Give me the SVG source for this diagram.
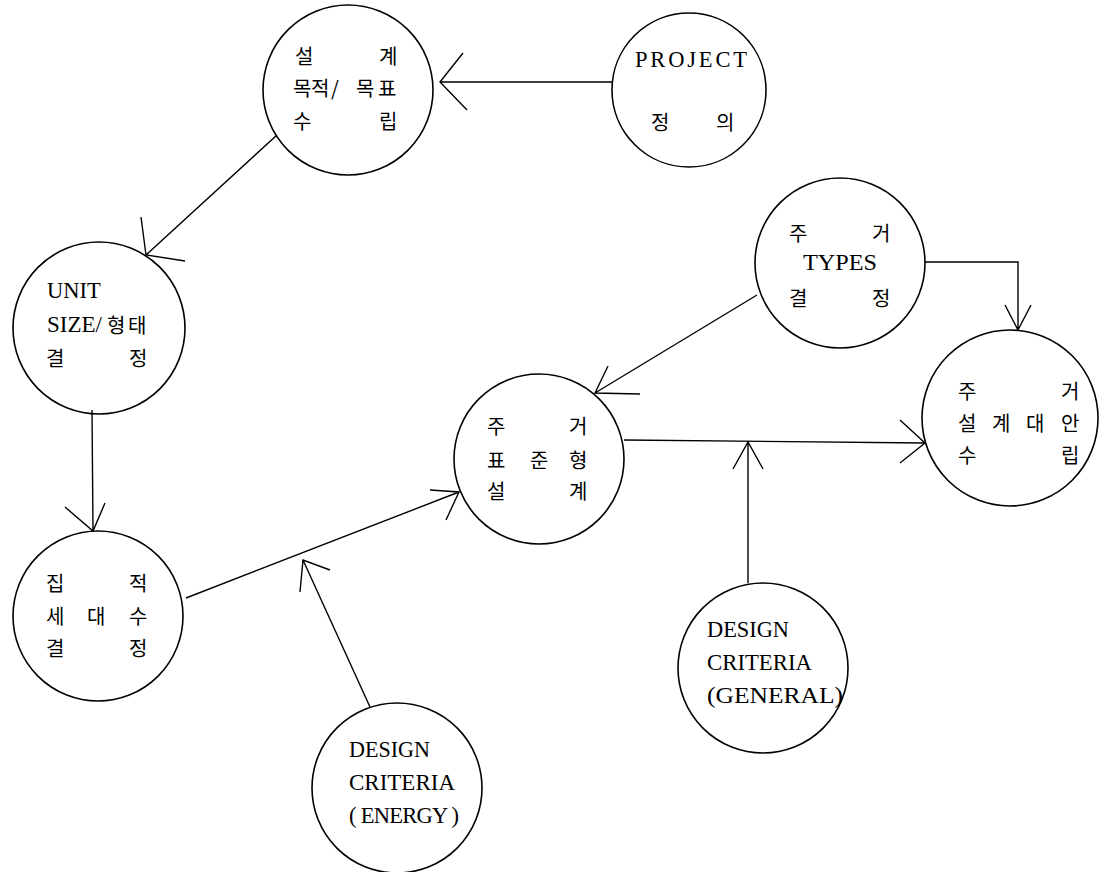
<svg xmlns="http://www.w3.org/2000/svg" width="1105" height="872" viewBox="0 0 1105 872">
<style>
.c{fill:none;stroke:#000;stroke-width:1.6}
.l{fill:none;stroke:#000;stroke-width:1.4}
.k{font-family:"Noto Sans CJK KR","Liberation Serif",serif;font-size:20px;fill:#000}
.e{font-family:"Liberation Serif","Noto Sans CJK KR",serif;font-size:22.5px;fill:#000}
</style>
<rect width="1105" height="872" fill="#fff"/>
<g id="connectors">
<path class="l" d="M613,82 L440,82 M463,53 L440,82 L467,110"/>
<path class="l" d="M277,135 L146,255 M141,217 L146,255 L185,261"/>
<path class="l" d="M92,410 L93,531 M65,507 L93,531 L105,503"/>
<path class="l" d="M186,598 L459,492 M430,490 L459,492 L446,520"/>
<path class="l" d="M370,707 L303,560 M300,592 L303,560 L330,570"/>
<path class="l" d="M757,295 L595,393 M640,394 L595,393 L608,366"/>
<path class="l" d="M925,262 L1018,262 L1018,330 M1005,305 L1018,330 L1031,305"/>
<path class="l" d="M624,440 L925,443 M900,420 L925,443 L900,463"/>
<path class="l" d="M748,583 L748,442 M733,469 L748,442 L763,469"/>
</g>
<g id="n1">
<circle class="c" cx="348" cy="90" r="85"/>
<text class="k" x="295" y="64">설</text><text class="k" x="379" y="64">계</text>
<text class="k" x="293" y="96">목</text><text class="k" x="311" y="96">적</text><text class="k" x="331" y="96">/</text><text class="k" x="356" y="96">목</text><text class="k" x="378" y="96">표</text>
<text class="k" x="293" y="129">수</text><text class="k" x="379" y="129">립</text>
</g>
<g id="n2">
<circle class="c" cx="689" cy="90" r="77"/>
<text class="e" x="635" y="67" textLength="112" lengthAdjust="spacing">PROJECT</text>
<text class="k" x="651" y="130">정</text><text class="k" x="716" y="130">의</text>
</g>
<g id="n3">
<circle class="c" cx="99" cy="328" r="86"/>
<text class="e" x="47" y="298">UNIT</text>
<text class="e" x="47" y="332" textLength="55" lengthAdjust="spacingAndGlyphs">SIZE/</text>
<text class="k" x="107" y="333">형</text><text class="k" x="128" y="333">태</text>
<text class="k" x="46" y="366">결</text><text class="k" x="129" y="366">정</text>
</g>
<g id="n4">
<circle class="c" cx="98" cy="616" r="85"/>
<text class="k" x="46" y="591">집</text><text class="k" x="129" y="591">적</text>
<text class="k" x="46" y="624">세</text><text class="k" x="87" y="624">대</text><text class="k" x="129" y="624">수</text>
<text class="k" x="46" y="656">결</text><text class="k" x="129" y="656">정</text>
</g>
<g id="n5">
<circle class="c" cx="539" cy="459" r="85"/>
<text class="k" x="487" y="434">주</text><text class="k" x="569" y="434">거</text>
<text class="k" x="487" y="468">표</text><text class="k" x="530" y="468">준</text><text class="k" x="569" y="468">형</text>
<text class="k" x="487" y="499">설</text><text class="k" x="569" y="499">계</text>
</g>
<g id="n6">
<circle class="c" cx="840" cy="263" r="85"/>
<text class="k" x="789" y="241">주</text><text class="k" x="872" y="241">거</text>
<text class="e" x="803" y="270" textLength="74" lengthAdjust="spacingAndGlyphs">TYPES</text>
<text class="k" x="789" y="306">결</text><text class="k" x="872" y="306">정</text>
</g>
<g id="n7">
<circle class="c" cx="1010" cy="418" r="88"/>
<text class="k" x="958" y="399">주</text><text class="k" x="1061" y="399">거</text>
<text class="k" x="958" y="431">설</text><text class="k" x="992" y="431">계</text><text class="k" x="1026" y="431">대</text><text class="k" x="1061" y="431">안</text>
<text class="k" x="958" y="463">수</text><text class="k" x="1061" y="463">립</text>
</g>
<g id="n8">
<circle class="c" cx="397" cy="788" r="85"/>
<text class="e" x="349" y="757" textLength="81" lengthAdjust="spacingAndGlyphs">DESIGN</text>
<text class="e" x="349" y="790" textLength="106" lengthAdjust="spacingAndGlyphs">CRITERIA</text>
<text class="e" x="349" y="823" textLength="110" lengthAdjust="spacing">( ENERGY )</text>
</g>
<g id="n9">
<circle class="c" cx="763" cy="668" r="85"/>
<text class="e" x="707" y="637" textLength="82" lengthAdjust="spacingAndGlyphs">DESIGN</text>
<text class="e" x="707" y="670" textLength="105" lengthAdjust="spacingAndGlyphs">CRITERIA</text>
<text class="e" x="707" y="703" textLength="136" lengthAdjust="spacingAndGlyphs">(GENERAL)</text>
</g>
</svg>
